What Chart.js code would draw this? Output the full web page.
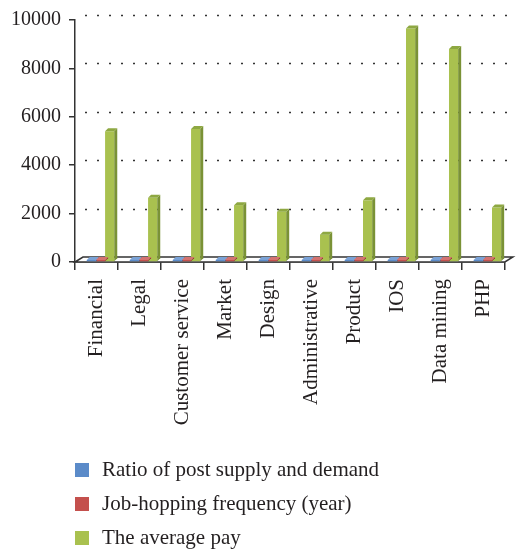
<!DOCTYPE html>
<html>
<head>
<meta charset="utf-8">
<script src="https://cdn.jsdelivr.net/npm/chart.js@4"></script>
<style>
  body { margin: 0; background: #fff; }
  #wrap { position: relative; width: 518px; height: 551px; }
  #legend { position: absolute; left: 75px; top: 452px; font-family: 'Liberation Serif', serif; font-size: 21px; color: #231f20; }
  .item { height: 34px; line-height: 34px; white-space: nowrap; }
  .box { display: inline-block; width: 14px; height: 14px; margin-right: 13px; vertical-align: -1px; }
</style>
</head>
<body>
<div id="wrap">
  <canvas id="chart" width="518" height="551"></canvas>
  <div id="legend"></div>
</div>
<script>
// categories and series
const jobs = ['Financial', 'Legal', 'Customer service', 'Market', 'Design',
              'Administrative', 'Product', 'IOS', 'Data mining', 'PHP'];
const supplyRatio = [1.2, 0.6, 0.9, 1.5, 1.3, 1.4, 1.2, 1.1, 1.3, 1.2];
const hoppingFreq = [2.1, 1.8, 2.0, 2.2, 2.1, 2.3, 2.0, 2.2, 2.4, 2.1];
const averagePay = [5400, 2650, 5500, 2350, 2080, 1130, 2550, 9650, 8800, 2250];
const yTicks = [0, 2000, 4000, 6000, 8000, 10000];

const seriesNames = ['Ratio of post supply and demand', 'Job-hopping frequency (year)', 'The average pay'];
const fronts = ['#5b8bc9', '#c4504d', '#a9c14f'];
const sides  = ['#3f6ba3', '#983a37', '#7a9236'];
const tops   = ['#7aa2d6', '#d47370', '#8ea842'];

const depth = 3;     // 3D face depth for bars
const wallDx = 8, wallDy = 5;   // back wall offset
const groupShift = 4;   // bars sit a little right of the category centre

// floor + dotted back-wall grid lines
const backWall = {
    id: 'backWall',
    beforeDatasetsDraw(chart) {
        const ctx = chart.ctx;
        const a = chart.chartArea;
        const y = chart.scales.y;
        ctx.save();
        ctx.strokeStyle = '#333';
        ctx.lineWidth = 1.5;
        ctx.setLineDash([2, 10]);
        for (const v of yTicks) {
            if (v === 0) continue;
            const py = Math.round(y.getPixelForValue(v) - wallDy) + 0.5;
            ctx.beginPath();
            ctx.moveTo(a.left + wallDx + 2, py);
            ctx.lineTo(a.right + wallDx, py);
            ctx.stroke();
        }
        ctx.setLineDash([]);
        // floor
        const b = y.getPixelForValue(0);
        ctx.fillStyle = '#fff';
        ctx.beginPath();
        ctx.moveTo(a.left, b);
        ctx.lineTo(a.left + wallDx, b - wallDy);
        ctx.lineTo(a.right + wallDx, b - wallDy);
        ctx.lineTo(a.right, b);
        ctx.closePath();
        ctx.fill();
        ctx.stroke();
        ctx.restore();
    }
};

// side and top faces for a 3D look
const bars3d = {
    id: 'bars3d',
    afterDatasetsUpdate(chart) {
        chart.data.datasets.forEach((ds, i) => {
            chart.getDatasetMeta(i).data.forEach(bar => { bar.x += groupShift; });
        });
    },
    afterDatasetsDraw(chart) {
        const ctx = chart.ctx;
        ctx.save();
        chart.data.datasets.forEach((ds, i) => {
            const meta = chart.getDatasetMeta(i);
            meta.data.forEach(bar => {
                const p = bar.getProps(['x', 'y', 'base', 'width'], true);
                const l = p.x - p.width / 2, r = p.x + p.width / 2;
                ctx.fillStyle = sides[i];
                ctx.beginPath();
                ctx.moveTo(r, p.y);
                ctx.lineTo(r + depth, p.y - depth);
                ctx.lineTo(r + depth, p.base - depth);
                ctx.lineTo(r, p.base);
                ctx.closePath();
                ctx.fill();
                ctx.fillStyle = tops[i];
                ctx.beginPath();
                ctx.moveTo(l, p.y);
                ctx.lineTo(l + depth, p.y - depth);
                ctx.lineTo(r + depth, p.y - depth);
                ctx.lineTo(r, p.y);
                ctx.closePath();
                ctx.fill();
            });
        });
        ctx.restore();
    }
};

const serif = 'Liberation Serif';

const chart = new Chart(document.getElementById('chart'), {
    type: 'bar',
    data: {
        labels: jobs,
        datasets: [
            { label: seriesNames[0], data: supplyRatio, backgroundColor: fronts[0] },
            { label: seriesNames[1], data: hoppingFreq, backgroundColor: fronts[1] },
            { label: seriesNames[2], data: averagePay, backgroundColor: fronts[2] }
        ]
    },
    options: {
        responsive: false,
        animation: false,
        layout: { padding: { top: 5, right: 8, bottom: 111, left: 0 } },
        datasets: {
            bar: { categoryPercentage: 0.64, barPercentage: 1, minBarLength: 2 }
        },
        plugins: {
            legend: { display: false },
            tooltip: { enabled: false }
        },
        scales: {
            x: {
                grid: { offset: true, drawOnChartArea: false, drawTicks: true, tickLength: 8, color: '#333', lineWidth: 1.5 },
                border: { display: true, color: '#333', width: 1.5 },
                ticks: { minRotation: 90, maxRotation: 90, padding: 9, color: '#231f20', font: { family: serif, size: 21 } },
                afterFit(s) { s.height = 178; }
            },
            y: {
                min: 0,
                max: 10000,
                afterBuildTicks(s) { s.ticks = yTicks.map(v => ({ value: v })); },
                grid: { drawOnChartArea: false, drawTicks: true, tickLength: 6, color: '#333', lineWidth: 1.5 },
                border: { display: true, color: '#333', width: 1.5 },
                ticks: { padding: 8, color: '#231f20', font: { family: serif, size: 20 }, callback: v => String(v) },
                afterFit(s) { s.width = 75; }
            }
        }
    },
    plugins: [backWall, bars3d]
});

// legend stacked under the chart, built from the datasets
const legend = document.getElementById('legend');
chart.data.datasets.forEach(ds => {
    const row = document.createElement('div');
    row.className = 'item';
    row.innerHTML = `<span class="box" style="background:${ds.backgroundColor}"></span>${ds.label}`;
    legend.appendChild(row);
});
</script>
</body>
</html>
